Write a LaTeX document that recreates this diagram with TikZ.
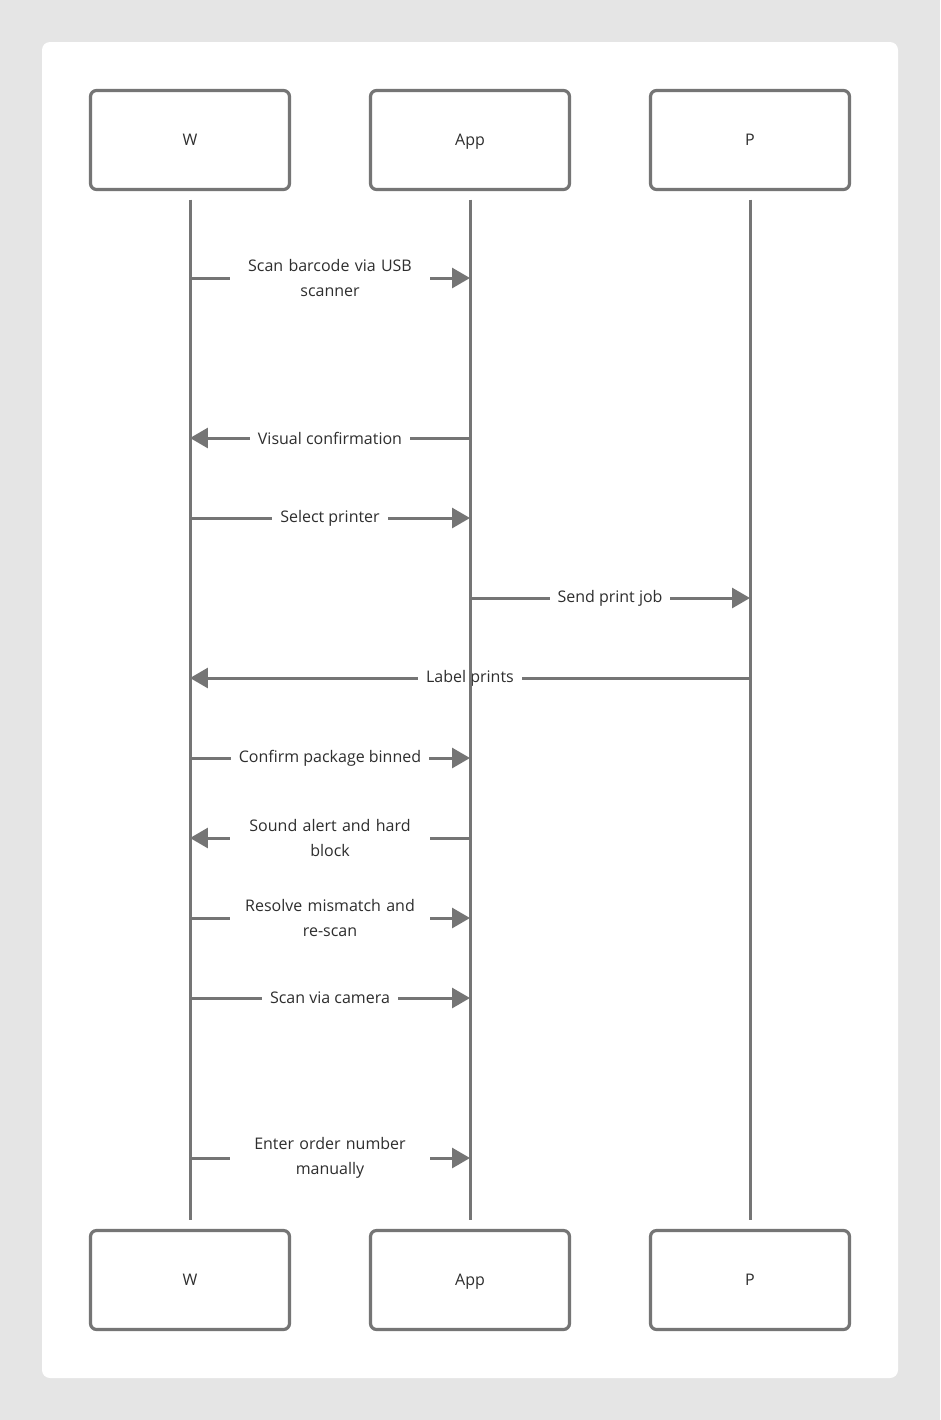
\documentclass[tikz,border=0pt]{standalone}
\usepackage{fontspec}
\setmainfont{Open Sans}
\usetikzlibrary{arrows.meta,positioning}
\definecolor{bgcol}{HTML}{E5E5E5}
\definecolor{linecol}{HTML}{757575}
\definecolor{txtcol}{HTML}{2E2E2E}
\tikzset{
	actor/.style={draw=linecol, line width=0.064cm, rounded corners=0.12cm, fill=white,
		minimum width=3.98cm, minimum height=1.98cm, text=txtcol,
		text height=1.7ex, text depth=0.45ex, font=\fontsize{9.1}{13.6}\selectfont},
	lifeline/.style={draw=linecol, line width=0.06cm},
	msg/.style={draw=linecol, line width=0.06cm, -{Triangle[length=0.36cm, width=0.4cm]}},
	lbl/.style={fill=white, text=txtcol, inner xsep=0.16cm, inner ysep=0.04cm, font=\fontsize{9.1}{14}\selectfont},
	lbltwo/.style={lbl, text width=3.68cm, align=center},
}

\begin{document}
\begin{tikzpicture}[x=0.02cm, y=-0.02cm]
	\fill[bgcol] (0,0) rectangle (940,1420);
	\useasboundingbox (0,0) rectangle (940,1420);
	\fill[white, rounded corners=0.16cm] (42,42) rectangle (898,1378);

	% participants
	\node[actor] (wTop) at (190,140) {W};
	\node[actor] (appTop) at (470,140) {App};
	\node[actor] (pTop) at (750,140) {P};
	\node[actor] (wBot) at (190,1280) {W};
	\node[actor] (appBot) at (470,1280) {App};
	\node[actor] (pBot) at (750,1280) {P};

	% message levels
	\foreach \name/\y in {m1/278, m2/438, m3/518, m4/598, m5/678,
			m6/758, m7/838, m8/918, m9/998, m10/1158}
		\coordinate (\name) at (0,\y);

	% messages
	\draw[msg] (wTop |- m1) -- node[lbltwo] {Scan barcode via USB\\scanner} (appTop |- m1);
	\draw[msg] (appTop |- m2) -- node[lbl] {Visual confirmation} (wTop |- m2);
	\draw[msg] (wTop |- m3) -- node[lbl] {Select printer} (appTop |- m3);
	\draw[msg] (appTop |- m4) -- node[lbl] {Send print job} (pTop |- m4);
	\draw[msg] (pTop |- m5) -- node[lbl] {Label prints} (wTop |- m5);
	\draw[msg] (wTop |- m6) -- node[lbl] {Confirm package binned} (appTop |- m6);
	\draw[msg] (appTop |- m7) -- node[lbltwo] {Sound alert and hard\\block} (wTop |- m7);
	\draw[msg] (wTop |- m8) -- node[lbltwo] {Resolve mismatch and\\re-scan} (appTop |- m8);
	\draw[msg] (wTop |- m9) -- node[lbl] {Scan via camera} (appTop |- m9);
	\draw[msg] (wTop |- m10) -- node[lbltwo] {Enter order number\\manually} (appTop |- m10);

	% lifelines
	\draw[lifeline] ([yshift=-0.17cm]wTop.south) -- ([yshift=0.17cm]wBot.north);
	\draw[lifeline] ([yshift=-0.17cm]appTop.south) -- ([yshift=0.17cm]appBot.north);
	\draw[lifeline] ([yshift=-0.17cm]pTop.south) -- ([yshift=0.17cm]pBot.north);
\end{tikzpicture}
\end{document}
